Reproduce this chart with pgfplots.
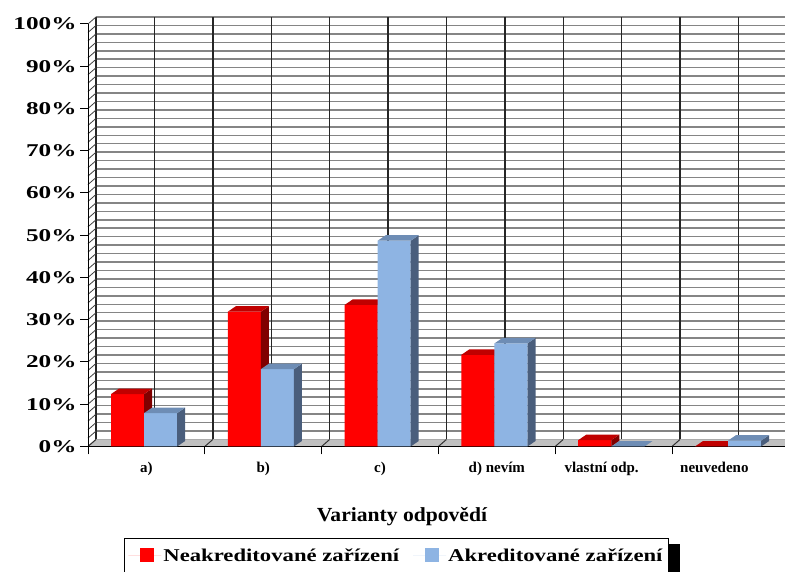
\documentclass[border=0pt]{standalone}
\usepackage{fontspec}
\setmainfont{Liberation Serif}
\newfontfamily\tickfont{Liberation Serif}[FakeStretch=1.4]
\newfontfamily\catfont{Liberation Serif}
\newfontfamily\titlefont{Liberation Serif}[FakeStretch=1.08]
\newfontfamily\legfont{Liberation Serif}[FakeStretch=1.26]
\usepackage{pgfplots}
\usepackage{pgfplotstable}
\pgfplotsset{compat=1.18}

\definecolor{nefront}{RGB}{255,0,0}
\definecolor{netop}{RGB}{192,0,0}
\definecolor{neside}{RGB}{128,0,0}
\definecolor{akfront}{RGB}{142,180,227}
\definecolor{aktop}{RGB}{110,141,181}
\definecolor{akside}{RGB}{74,94,124}
\definecolor{floorgray}{RGB}{192,192,192}

% share of answers (%) per variant
\pgfplotstableread{
idx ne   ak
0   12.4 7.9
1   31.9 18.3
2   33.5 48.7
3   21.7 24.4
4   1.5  0
5   0    1.4
}\answers

% depth of a column (axis units)
\def\bdx{0.0685}
\def\bdy{1.3}

% side and top faces of one column
% #1 index, #2 value, #3 left offset, #4 width, #5 top colour, #6 side colour
\newcommand\barfaces[6]{%
  \pgfmathsetmacro\xa{#1+#3}%
  \pgfmathsetmacro\xb{\xa+#4}%
  \pgfmathsetmacro\xc{\xa+\bdx}%
  \pgfmathsetmacro\xd{\xb+\bdx}%
  \pgfmathsetmacro\ya{#2}%
  \pgfmathsetmacro\yb{#2+\bdy}%
  \edef\next{%
    \noexpand\addplot[forget plot, fill=#6, draw=none]
      coordinates {(\xb,0) (\xd,\bdy) (\xd,\yb) (\xb,\ya)} -- cycle;
    \noexpand\addplot[forget plot, fill=#5, draw=none]
      coordinates {(\xa,\ya) (\xb,\ya) (\xd,\yb) (\xc,\yb)} -- cycle;
  }\next
}

\begin{document}
\begin{tikzpicture}[x=1bp,y=1bp]
\useasboundingbox (0,0) rectangle (785,572);

% back wall: horizontal grid
\begin{axis}[
  at={(96bp,132.5bp)}, anchor=south west,
  scale only axis, width=700.8bp, height=422.5bp,
  xmin=-0.5, xmax=5.5, ymin=0, ymax=100,
  xtick=\empty, ytick={0,2,...,100},
  yticklabels={},
  major tick length=0pt,
  ymajorgrids,
  major y grid style={black!48, line width=1.5bp},
  axis line style={draw=none},
]
\end{axis}
% back wall: vertical lines at category borders and centres
\foreach \k in {0,...,12}
  \draw[black!85, line width=1.4bp] ({96+58.4*\k},132.5) -- ({96+58.4*\k},555);

% side wall
\foreach \k in {0,2,...,100}
  \draw[black!75, line width=0.8bp] (88,{125.5+4.225*\k}) -- (96,{132.5+4.225*\k});

% floor
\fill[floorgray] (88,125.5) -- (788.8,125.5) -- (796.8,132.5) -- (96,132.5) -- cycle;
\foreach \k in {0,...,6}
  \draw[black!80, line width=1bp] ({88+116.8*\k},125.5) -- ({96+116.8*\k},132.5);

% legend shadow
\fill[black] (130,-20) rectangle (680,28);

% front axis with the columns
\begin{axis}[
  at={(88bp,125.5bp)}, anchor=south west,
  scale only axis, width=700.8bp, height=422.5bp,
  xmin=-0.5, xmax=5.5, ymin=0, ymax=100,
  clip=false,
  axis x line*=bottom, axis y line*=left,
  axis line style={black, line width=1bp, -},
  tick align=outside,
  major tick length=8bp, minor tick length=8bp,
  tick style={black, line width=1bp},
  ytick={0,10,...,100},
  yticklabel={\pgfmathprintnumber{\tick}\%},
  /pgf/number format/assume math mode=true,
  yticklabel style={font=\tickfont\bfseries\fontsize{18bp}{18bp}\selectfont},
  xtick={0,...,5},
  xticklabels={a),b),c),d) nevím,\hspace*{-24bp}vlastní odp.,\hspace*{-32bp}neuvedeno},
  major x tick style={draw=none},
  minor xtick={-0.5,0.5,...,5.5},
  xticklabel style={font=\catfont\bfseries\fontsize{15bp}{16bp}\selectfont, yshift=-4bp},
  xlabel={Varianty odpovědí},
  xlabel style={font=\titlefont\bfseries\fontsize{20bp}{22bp}\selectfont,
    at={(axis description cs:0.448,-0.178)}, anchor=base},
  legend columns=2,
  legend style={at={(axis description cs:0.05137,-0.21657)}, anchor=north west,
    draw=black, line width=0.8bp, fill=white,
    font=\legfont\bfseries\fontsize{18bp}{20bp}\selectfont,
    inner xsep=4bp, inner ysep=8bp,
    /tikz/every even column/.append style={column sep=12bp}},
  legend image code/.code={\path (0bp,0bp) -- (33bp,0bp);
    \fill[#1, draw=none] (12bp,-7bp) rectangle (26bp,7bp);},
]
\addplot[ybar, bar width=0.283, bar shift=-0.1615, fill=nefront, draw=none]
  table[x=idx, y=ne] {\answers};
\addlegendentry{Neakreditované zařízení}
\pgfplotsinvokeforeach{0,...,5}{%
  \pgfplotstablegetelem{#1}{ne}\of\answers
  \barfaces{#1}{\pgfplotsretval}{-0.303}{0.283}{netop}{neside}%
}
\addplot[ybar, bar width=0.283, bar shift=0.1215, fill=akfront, draw=none]
  table[x=idx, y=ak] {\answers};
\addlegendentry{Akreditované zařízení}
\pgfplotsinvokeforeach{0,...,5}{%
  \pgfplotstablegetelem{#1}{ak}\of\answers
  \barfaces{#1}{\pgfplotsretval}{-0.02}{0.283}{aktop}{akside}%
}
\end{axis}
\end{tikzpicture}
\end{document}
